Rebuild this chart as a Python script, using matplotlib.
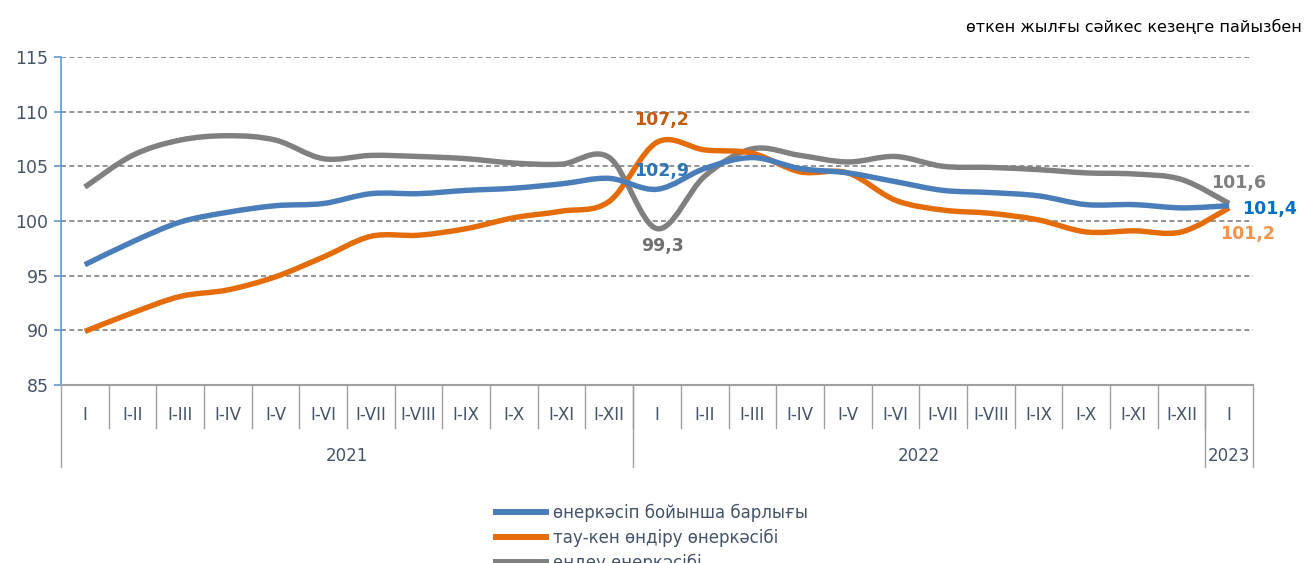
import numpy as np
import matplotlib.pyplot as plt
from matplotlib.path import Path
from matplotlib.patches import PathPatch
from matplotlib.lines import Line2D
import matplotlib.transforms as mtransforms

plt.rcParams['font.family'] = ['DejaVu Sans']

months = ['I', 'I-II', 'I-III', 'I-IV', 'I-V', 'I-VI', 'I-VII', 'I-VIII',
          'I-IX', 'I-X', 'I-XI', 'I-XII']
categories = months + months + ['I']
years = ['2021', '2022', '2023']
year_sizes = [12, 12, 1]

total = [96.0, 98.1, 99.9, 100.8, 101.4, 101.6, 102.5, 102.5, 102.8, 103.0, 103.4, 103.9,
         102.9, 104.8, 105.8, 104.8, 104.4, 103.6, 102.8, 102.6, 102.3, 101.5, 101.5, 101.2,
         101.4]
mining = [89.9, 91.6, 93.1, 93.7, 94.9, 96.7, 98.6, 98.7, 99.3, 100.3, 100.9, 101.8,
          107.2, 106.5, 106.2, 104.5, 104.4, 101.9, 101.0, 100.7, 100.1, 99.0, 99.1, 99.0,
          101.2]
manuf = [103.1, 106.0, 107.4, 107.8, 107.4, 105.7, 106.0, 105.9, 105.7, 105.3, 105.2, 105.8,
         99.3, 104.1, 106.6, 106.0, 105.4, 105.9, 105.0, 104.9, 104.7, 104.4, 104.3, 103.8,
         101.6]

series_names = ['өнеркәсіп бойынша барлығы', 'тау-кен өндіру өнеркәсібі', 'өңдеу өнеркәсібі']
series_colors = ['#4A7EBB', '#E46C0A', '#808080']
text_blue = '#44546A'


def smooth_path(xs, ys):
    # Excel-style smoothed line: cubic Bezier segments through each point
    p = np.column_stack([xs, ys]).astype(float)
    n = len(p)
    verts = [p[0]]
    codes = [Path.MOVETO]
    for i in range(n - 1):
        p0 = p[i - 1] if i > 0 else p[i]
        p3 = p[i + 2] if i + 2 < n else p[i + 1]
        c1 = p[i] + (p[i + 1] - p0) / 6.0
        c2 = p[i + 1] - (p3 - p[i]) / 6.0
        verts += [c1, c2, p[i + 1]]
        codes += [Path.CURVE4] * 3
    return Path(verts, codes)


fig = plt.figure(figsize=(13.06, 5.63), dpi=100)
ax = fig.add_axes([61 / 1306, 1 - 385 / 563, 1192 / 1306, 328 / 563])

x = np.arange(len(categories))
for vals, col in zip([total, mining, manuf][::-1], series_colors[::-1]):
    patch = PathPatch(smooth_path(x, vals), facecolor='none', edgecolor=col,
                      lw=3.9, capstyle='butt', joinstyle='round', zorder=3)
    ax.add_patch(patch)

ax.set_xlim(-0.5, len(categories) - 0.5)
ax.set_ylim(85, 115)
ax.set_yticks(range(85, 116, 5))
for v in range(90, 116, 5):
    ax.axhline(v, color='#808080', lw=1.2, ls=(0, (3, 2)), zorder=1)

for s in ['top', 'right']:
    ax.spines[s].set_visible(False)
ax.spines['left'].set_color('#5B9BD5')
ax.spines['left'].set_linewidth(1.2)
ax.spines['bottom'].set_color('#A0A0A0')
ax.spines['bottom'].set_linewidth(1.5)
ax.tick_params(axis='y', colors='#5B9BD5', labelcolor=text_blue, labelsize=12.5,
               length=5, width=1.2, direction='out', pad=4)
ax.set_xticks([])

# multi-level category axis
trans = mtransforms.blended_transform_factory(ax.transData, ax.transAxes)
for i, lab in enumerate(categories):
    ax.text(i, -0.09, lab, transform=trans, ha='center', va='center',
            fontsize=12, color=text_blue)
for b in range(1, len(categories)):
    ax.plot([b - 0.5, b - 0.5], [0, -0.13], transform=trans, color='#A0A0A0',
            lw=1, clip_on=False)
start = 0
edges = [-0.5]
for yr, size in zip(years, year_sizes):
    ax.text(start + (size - 1) / 2, -0.215, yr, transform=trans, ha='center',
            va='center', fontsize=12, color=text_blue)
    start += size
    edges.append(start - 0.5)
for e in edges:
    ax.plot([e, e], [0, -0.25], transform=trans, color='#A0A0A0', lw=1, clip_on=False)

# data labels
labels = [
    (12, mining[12], '107,2', '#C55A11', (5, 22)),
    (12, total[12], '102,9', '#2E75B6', (5, 18)),
    (12, manuf[12], '99,3', '#707070', (5, -17)),
    (24, manuf[24], '101,6', '#7F7F7F', (9, 21)),
    (24, total[24], '101,4', '#0070C0', (40, -3)),
    (24, mining[24], '101,2', '#F4944C', (18, -26)),
]
for xi, yi, txt, col, off in labels:
    ax.annotate(txt, (xi, yi), xytext=off, textcoords='offset pixels',
                ha='center', va='center', fontsize=12.5, fontweight='bold',
                color=col, zorder=5)

fig.text(1302 / 1306, 1 - 27 / 563, 'өткен жылғы сәйкес кезеңге пайызбен',
         ha='right', va='center', fontsize=11.5, color='black')

handles = [Line2D([], [], color=c, lw=4.3) for c in series_colors]
fig.legend(handles, series_names, loc='upper left',
           bbox_to_anchor=(488 / 1306, 1 - 495 / 563), frameon=False,
           fontsize=12, labelcolor=text_blue, handlelength=3.0, handletextpad=0.4,
           labelspacing=0.42, borderpad=0)

fig.savefig('out.png', dpi=100, facecolor='white')
plt.close(fig)
